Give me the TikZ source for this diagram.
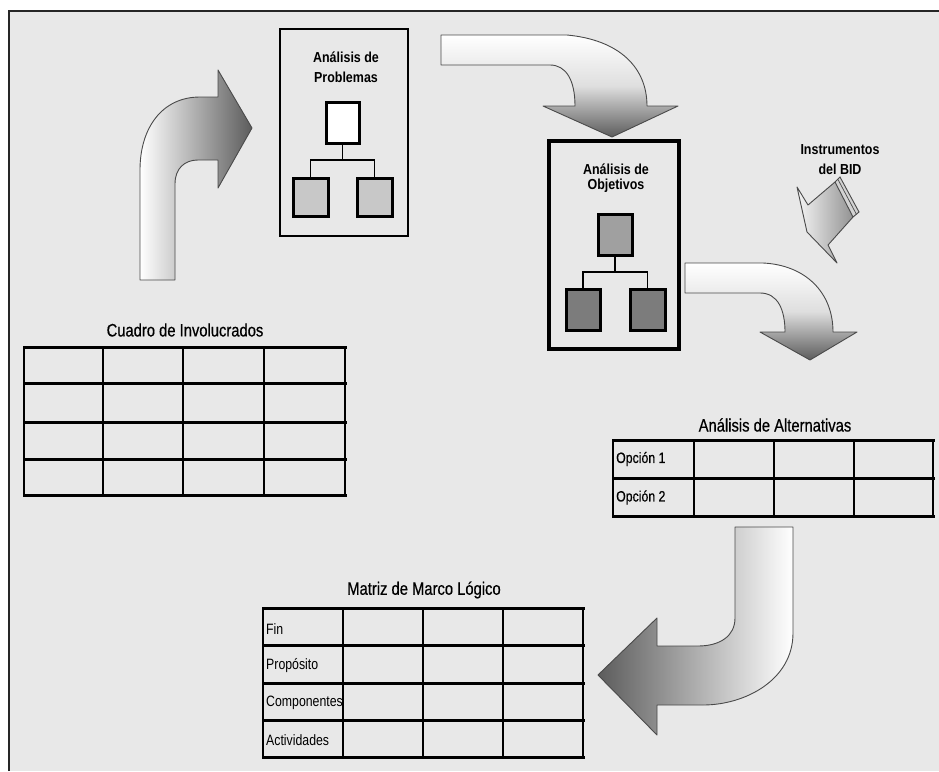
\documentclass[tikz,border=0pt]{standalone}
\usepackage{fontspec}
\setmainfont{Liberation Sans}
\newfontfamily\nrw{Liberation Sans}[FakeStretch=0.82,FakeBold=0.5]
\newfontfamily\nrwl{Liberation Sans}[FakeStretch=0.82]
\newfontfamily\nrwb{Liberation Sans}[FakeStretch=0.86]
\usetikzlibrary{calc}
\definecolor{bg}{HTML}{E8E8E8}
\definecolor{arrdark}{HTML}{5C5C5C}
\definecolor{arrline}{HTML}{4A4A4A}
\definecolor{lightbox}{HTML}{C8C8C8}
\definecolor{midbox}{HTML}{A0A0A0}
\definecolor{darkbox}{HTML}{7C7C7C}
\begin{document}
\begin{tikzpicture}[x=1pt,y=-1pt,
  gridline/.style={line width=3pt,black,line cap=rect},
  gridv/.style={line width=2.5pt,black,line cap=rect},
  blockarrow/.style={draw=arrline,line width=0.9pt,line join=round},
  panel/.style={draw=black,fill=bg,inner sep=0pt,outer sep=0pt},
  leaf/.style={draw=black,line width=3pt,inner sep=0pt,outer sep=0pt},
  link/.style={black,line width=1.8pt},
  boxlabel/.style={font=\nrwb\bfseries\fontsize{14.5}{20}\selectfont,align=center,inner sep=0pt},
  ttl/.style={font=\nrw\fontsize{18}{20}\selectfont,inner sep=0pt},
  tcell/.style={font=\nrwl\fontsize{15}{17}\selectfont,inner sep=0pt,anchor=west}
]
\useasboundingbox (0,0) rectangle (939,771);
\fill[white] (0,0) rectangle (939,771);
\fill[bg] (9,11) rectangle (939,771);
\draw[line width=2pt,black!85] (9,771) -- (9,11) -- (939,11);

% ---------- arrow 1 (up, then right)
\shadedraw[blockarrow,left color=white,right color=arrdark]
 (140,280) -- (140,170) .. controls (140,128) and (162,97) .. (200,97)
 -- (218,97) -- (218,70) -- (252,128) -- (218,188) -- (218,160)
 -- (198,160) .. controls (185,160) and (175,168) .. (175,184)
 -- (175,280) -- cycle;

% ---------- Analisis de Problemas
\node[panel,line width=1.4pt,minimum width=128pt,minimum height=207pt] (prob) at (344,132.5) {};
\node[boxlabel] (probt) at (346,67) {Análisis de\\Problemas};
\node[leaf,fill=white,minimum width=33pt,minimum height=41pt] (pt) at (342.5,122.5) {};
\node[leaf,fill=lightbox,minimum width=35pt,minimum height=38pt] (pl) at (310.5,197) {};
\node[leaf,fill=lightbox,minimum width=35pt,minimum height=38pt] (pr) at (374.5,197) {};
\draw[link] (pt.south) -- ++(0,17) coordinate (pj);
\draw[link] (pl.north) |- (pj) -| (pr.north);

% ---------- arrow 2 (right, then down)
\shadedraw[blockarrow,top color=white,bottom color=arrdark,middle color=white!80!arrdark]
 (441,35) -- (567,35) .. controls (620,40) and (647,68) .. (647,106)
 -- (678,106) -- (612,137) -- (543,106) -- (575,106)
 .. controls (575,80) and (566,65) .. (550,65) -- (441,65) -- cycle;

% ---------- Analisis de Objetivos
\node[panel,line width=3.2pt,minimum width=130pt,minimum height=208pt] (obj) at (614,245) {};
\node[boxlabel,font=\nrwb\bfseries\fontsize{14.5}{15}\selectfont] (objt) at (616,178) {Análisis de\\Objetivos};
\node[leaf,fill=midbox,minimum width=34pt,minimum height=41pt] (ot) at (615,234.5) {};
\node[leaf,fill=darkbox,minimum width=34pt,minimum height=41pt] (ol) at (583,309.5) {};
\node[leaf,fill=darkbox,minimum width=35pt,minimum height=41pt] (or) at (647.5,309.5) {};
\draw[link] (ot.south) -- ++(0,17) coordinate (oj);
\draw[link] (ol.north) |- (oj) -| (or.north);

% ---------- Instrumentos del BID
\node[boxlabel] (bid) at (840,160) {Instrumentos\\del BID};
\fill[gray!35] (835,182) -- (840,177) -- (859,212) -- (853,217) -- cycle;
\draw[arrline,line width=0.9pt] (835,182) -- (840,177) -- (859,212) -- (853,217);
\draw[arrline,line width=0.7pt] (838,179.5) -- (856.5,214.5);
\shadedraw[blockarrow,shading angle=150,left color=white!92!gray,right color=gray!85]
 (797,187) -- (808,205) -- (835,182) -- (853,217) -- (828,245) -- (837,263) -- (807,232) -- cycle;

% ---------- arrow 3 (right, then down)
\shadedraw[blockarrow,top color=white,bottom color=arrdark,middle color=white!80!arrdark]
 (685,263) -- (763,263) .. controls (805,265) and (833,292) .. (833,332)
 -- (857,332) -- (810,360) -- (760,332) -- (785,332)
 .. controls (785,310) and (778,293) .. (760,293) -- (685,293) -- cycle;

% ---------- Cuadro de Involucrados
\node[ttl] (cuadro) at (185,330) {Cuadro de Involucrados};
\foreach \yy in {347,383,422,459,495} \draw[gridline] (24,\yy) -- (345,\yy);
\foreach \xx in {24,103,183,264,345} \draw[gridv] (\xx,347) -- (\xx,495);

% ---------- Analisis de Alternativas
\node[ttl] (alt) at (775,425) {Análisis de Alternativas};
\foreach \yy in {440,478,516} \draw[gridline] (613,\yy) -- (933,\yy);
\foreach \xx in {613,694,774,854,933} \draw[gridv] (\xx,440) -- (\xx,516);
\node[tcell,font=\nrw\fontsize{15}{17}\selectfont] (op1) at (616,459) {Opción 1};
\node[tcell,font=\nrw\fontsize{15}{17}\selectfont] (op2) at (616,497.5) {Opción 2};

% ---------- arrow 4 (down, then left)
\shadedraw[blockarrow,left color=arrdark,right color=white]
 (735,527) -- (793,527) -- (793,633) .. controls (793,680) and (745,705) .. (703,705)
 -- (657,705) -- (657,735) -- (598,675) -- (657,618) -- (657,646)
 -- (698,646) .. controls (720,646) and (735,636) .. (735,618) -- cycle;

% ---------- Matriz de Marco Logico
\node[ttl] (mml) at (424,590) {Matriz de Marco Lógico};
\foreach \yy in {608,645,683,720,757} \draw[gridline] (263,\yy) -- (583,\yy);
\foreach \xx in {263,343,423,503,583} \draw[gridv] (\xx,608) -- (\xx,757);
\node[tcell] (fin) at (266,629) {Fin};
\node[tcell] (prop) at (266,666) {Propósito};
\node[tcell] (comp) at (266,703) {Componentes};
\node[tcell] (act) at (266,740) {Actividades};
\end{tikzpicture}
\end{document}
